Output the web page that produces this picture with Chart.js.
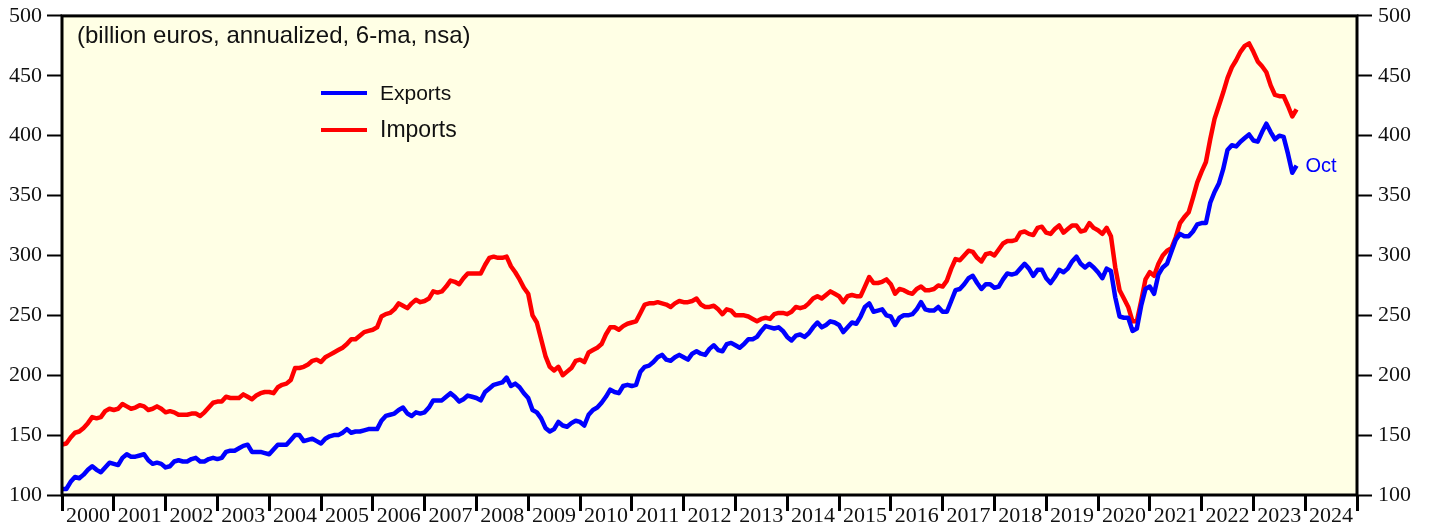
<!DOCTYPE html>
<html>
<head>
<meta charset="utf-8">
<script src="https://cdn.jsdelivr.net/npm/chart.js@4.4.1/dist/chart.umd.min.js"></script>
<style>
  body { margin: 0; background: #fff; }
  #wrap { width: 1429px; height: 529px; }
</style>
</head>
<body>
<div id="wrap"><canvas id="tradechart"></canvas></div>
<script>
// monthly, Jan 2000 .. Oct 2023 (billion euros, annualized, 6-ma)
var exportsData = [
  105,105,111,115,114,117,121,124,121,119,123,127,
  126,125,131,134,132,132,133,134,129,126,127,126,
  123,124,128,129,128,128,130,131,128,128,130,131,
  130,131,136,137,137,139,141,142,136,136,136,135,
  134,138,142,142,142,146,150,150,145,146,147,145,
  143,147,149,150,150,152,155,152,153,153,154,155,
  155,155,162,166,167,168,171,173,168,166,169,168,
  169,173,179,179,179,182,185,182,178,180,183,182,
  181,179,186,189,192,193,194,198,191,193,190,185,
  181,171,169,164,156,153,155,161,158,157,160,162,
  161,158,167,171,173,177,182,188,186,185,191,192,
  191,192,203,207,208,211,215,217,213,212,215,217,
  215,213,218,220,218,217,222,225,221,220,226,227,
  225,223,226,230,230,232,237,241,240,239,240,237,
  232,229,233,234,232,235,240,244,240,242,245,244,
  242,236,240,244,243,249,257,260,253,254,255,250,
  249,242,248,250,250,251,255,261,255,254,254,257,
  253,253,262,271,272,276,281,283,277,272,276,276,
  273,274,280,285,284,285,289,293,289,283,288,288,
  281,277,282,288,286,289,295,299,293,290,293,290,
  286,281,289,287,265,249,248,248,237,239,258,272,
  274,268,284,290,293,303,313,318,316,316,320,326,
  327,327,344,353,360,372,388,392,391,395,398,401,
  396,395,403,410,403,397,400,399,385,369,375
];
var importsData = [
  142,143,148,152,153,156,160,165,164,165,170,172,
  171,172,176,174,172,173,175,174,171,172,174,172,
  169,170,169,167,167,167,168,168,166,169,173,177,
  178,178,182,181,181,181,184,182,180,183,185,186,
  186,185,190,192,193,196,206,206,207,209,212,213,
  211,215,217,219,221,223,226,230,230,233,236,237,
  238,240,249,251,252,255,260,258,256,260,263,261,
  262,264,270,269,270,274,279,278,276,281,285,285,
  285,285,292,298,299,298,298,299,291,286,280,273,
  268,250,244,230,216,207,204,207,200,203,206,212,
  213,211,219,221,223,226,234,240,240,238,241,243,
  244,245,252,259,260,260,261,260,259,257,260,262,
  261,261,262,264,259,257,257,258,255,251,255,254,
  250,250,250,249,247,245,247,248,247,251,252,252,
  251,253,257,256,257,260,264,266,264,267,270,268,
  266,261,266,267,266,266,274,282,277,277,278,280,
  276,268,272,271,269,268,272,274,271,271,272,275,
  274,279,289,297,296,300,304,303,298,295,301,302,
  300,305,310,312,312,313,319,320,318,317,323,324,
  319,318,322,325,319,322,325,325,320,321,327,323,
  321,318,323,316,290,271,264,257,245,245,262,280,
  286,283,293,300,304,306,315,327,332,336,348,361,
  370,378,397,414,425,436,448,457,463,470,475,477,
  470,462,458,453,442,434,433,433,425,416,422
];
var yearLabels = ['2000','2001','2002','2003','2004','2005','2006','2007','2008','2009',
  '2010','2011','2012','2013','2014','2015','2016','2017','2018','2019',
  '2020','2021','2022','2023','2024'];
var startYear = 2000;

var toPoints = function (arr) {
  return arr.map(function (v, i) { return { x: startYear + i / 12, y: v }; });
};

var serif = '"Liberation Serif", "Times New Roman", serif';
var xFont = { family: serif, size: 22 };
var yFont = { family: serif, size: 22, lineHeight: 0.9 };

var frame = {
  id: 'frame',
  beforeDraw: function (chart) {
    var a = chart.chartArea, c = chart.ctx;
    c.save();
    c.fillStyle = '#FFFFE5';
    c.fillRect(a.left, a.top, a.right - a.left, a.bottom - a.top);
    c.restore();
  },
  afterDatasetsDraw: function (chart) {
    var a = chart.chartArea, c = chart.ctx;
    c.save();
    c.strokeStyle = '#000';
    c.lineWidth = 3;
    c.strokeRect(a.left, a.top, a.right - a.left, a.bottom - a.top);
    c.restore();
  },
  afterDraw: function (chart) {
    var c = chart.ctx;
    var xs = chart.scales.x, ys = chart.scales.y;
    c.save();
    c.textBaseline = 'middle';
    c.fillStyle = '#111';
    c.font = '24px "Liberation Sans", Arial, sans-serif';
    c.fillText('(billion euros, annualized, 6-ma, nsa)', 77, 36);
    // legend
    c.lineWidth = 4;
    c.strokeStyle = '#0000FF';
    c.beginPath(); c.moveTo(321, 93); c.lineTo(367, 93); c.stroke();
    c.strokeStyle = '#FF0000';
    c.beginPath(); c.moveTo(321, 130); c.lineTo(367, 130); c.stroke();
    c.fillStyle = '#111';
    c.font = '21px "Liberation Sans", Arial, sans-serif';
    c.fillText('Exports', 380, 94);
    c.font = '23px "Liberation Sans", Arial, sans-serif';
    c.fillText('Imports', 380, 131);
    // last value label
    var last = exportsData.length - 1;
    c.fillStyle = '#0000FF';
    c.font = '20px "Liberation Sans", Arial, sans-serif';
    c.fillText('Oct', xs.getPixelForValue(startYear + last / 12) + 9, ys.getPixelForValue(exportsData[last]) + 1);
    c.restore();
  }
};

var ctx1 = document.getElementById('tradechart');
var chart1 = new Chart(ctx1, {
  type: 'line',
  data: {
    datasets: [
      { label: 'Exports', data: toPoints(exportsData), borderColor: '#0000FF', borderWidth: 4.5, pointRadius: 0, tension: 0, borderJoinStyle: 'round' },
      { label: 'Imports', data: toPoints(importsData), borderColor: '#FF0000', borderWidth: 4.5, pointRadius: 0, tension: 0, borderJoinStyle: 'round' }
    ]
  },
  options: {
    responsive: true,
    maintainAspectRatio: false,
    animation: false,
    layout: { padding: { top: 15, left: 0, right: 0, bottom: 0 } },
    plugins: { legend: { display: false }, tooltip: { enabled: false } },
    scales: {
      x: {
        type: 'linear',
        min: 2000,
        max: 2025,
        border: { display: false },
        grid: { drawOnChartArea: false, drawTicks: true, tickLength: 16, tickWidth: 3, color: '#000' },
        ticks: {
          stepSize: 1,
          autoSkip: false,
          maxRotation: 0,
          labelOffset: 25.9,
          padding: -8,
          color: '#111',
          font: xFont,
          callback: function (v) { return yearLabels[Math.round(v) - startYear] || ''; }
        },
        afterFit: function (s) { s.height = 34; }
      },
      y: {
        position: 'left',
        min: 100,
        max: 500,
        border: { display: false },
        grid: { drawOnChartArea: false, tickLength: 15, tickWidth: 2, color: '#000' },
        ticks: { stepSize: 50, padding: 5, color: '#111', font: yFont },
        afterFit: function (s) { s.width = 62; }
      },
      y2: {
        position: 'right',
        min: 100,
        max: 500,
        border: { display: false },
        grid: { drawOnChartArea: false, tickLength: 15, tickWidth: 2, color: '#000' },
        ticks: { stepSize: 50, padding: 6, color: '#111', font: yFont },
        afterFit: function (s) { s.width = 72; }
      }
    }
  },
  plugins: [frame]
});
</script>
</body>
</html>
